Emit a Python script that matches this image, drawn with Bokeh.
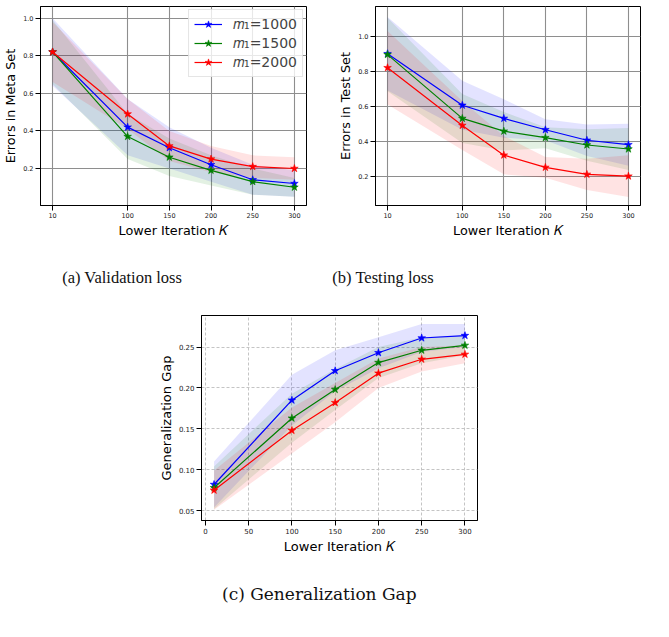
from bokeh.plotting import figure
from bokeh.layouts import column, row
from bokeh.models import (Legend, LegendItem, FixedTicker,
                          PrintfTickFormatter, Range1d, Spacer)
from bokeh.core.properties import value
from bokeh.embed import file_html
from bokeh.resources import INLINE

# Lower-level iteration counts
K = [10, 100, 150, 200, 250, 300]

SERIES_LABELS = ["𝑚₁=1000", "𝑚₁=1500", "𝑚₁=2000"]
COLORS = ["blue", "green", "red"]

# (a) errors on the meta (validation) set: mean and spread
meta_1000 = [0.82, 0.42, 0.31, 0.22, 0.14, 0.12]
meta_1500 = [0.82, 0.37, 0.26, 0.19, 0.13, 0.10]
meta_2000 = [0.82, 0.49, 0.32, 0.25, 0.21, 0.20]
meta_std_1000 = [0.18, 0.15, 0.11, 0.09, 0.08, 0.07]
meta_std_1500 = [0.17, 0.12, 0.10, 0.08, 0.07, 0.05]
meta_std_2000 = [0.16, 0.08, 0.08, 0.07, 0.06, 0.06]

# (b) errors on the test set
test_1000 = [0.90, 0.605, 0.53, 0.465, 0.405, 0.38]
test_1500 = [0.895, 0.53, 0.457, 0.42, 0.378, 0.355]
test_2000 = [0.82, 0.49, 0.32, 0.25, 0.21, 0.20]
test_std_1000 = [0.21, 0.14, 0.11, 0.06, 0.09, 0.12]
test_std_1500 = [0.21, 0.14, 0.11, 0.06, 0.09, 0.12]
test_std_2000 = [0.21, 0.14, 0.11, 0.06, 0.09, 0.12]

# (c) generalization gap
gap_1000 = [0.082, 0.185, 0.221, 0.243, 0.261, 0.264]
gap_1500 = [0.078, 0.163, 0.198, 0.231, 0.246, 0.252]
gap_2000 = [0.075, 0.148, 0.182, 0.218, 0.235, 0.241]
gap_std_1000 = [0.028, 0.031, 0.025, 0.019, 0.017, 0.014]
gap_std_1500 = [0.026, 0.030, 0.025, 0.019, 0.016, 0.012]
gap_std_2000 = [0.024, 0.028, 0.024, 0.018, 0.015, 0.011]

CAPTIONS = ["(a) Validation loss", "(b) Testing loss", "(c) Generalization Gap"]

FONT = "DejaVu Sans"
X_LABEL = "Lower Iteration 𝐾"
PAGE_W = 669


def make_panel(width, height, borders, y_range, x_ticks, y_ticks, y_fmt,
               y_label, tick_px, label_px, grid_dash):
    left, right, top, bottom = borders
    p = figure(width=width, height=height, output_backend="svg",
               toolbar_location=None, title=None,
               x_range=Range1d(-4.5, 314.5), y_range=Range1d(*y_range),
               min_border_left=left, min_border_right=right,
               min_border_top=top, min_border_bottom=bottom)
    p.outline_line_color = "black"
    p.outline_line_width = 1
    p.outline_line_alpha = 1
    p.background_fill_color = "white"
    p.border_fill_color = "white"

    p.xaxis.ticker = FixedTicker(ticks=x_ticks)
    p.yaxis.ticker = FixedTicker(ticks=y_ticks)
    p.yaxis.formatter = PrintfTickFormatter(format=y_fmt)
    for ax in (p.xaxis[0], p.yaxis[0]):
        ax.axis_line_color = "black"
        ax.major_tick_line_color = "black"
        ax.major_tick_out = 5
        ax.major_tick_in = 0
        ax.minor_tick_line_color = None
        ax.major_label_text_font = FONT
        ax.major_label_text_font_size = tick_px
        ax.major_label_text_color = "#222222"
        ax.axis_label_text_font = FONT
        ax.axis_label_text_font_style = "normal"
        ax.axis_label_text_color = "black"
        ax.major_label_standoff = 2
        ax.axis_label_standoff = 2
    p.xaxis.axis_label = X_LABEL
    p.yaxis.axis_label = y_label
    p.xaxis.axis_label_text_font_size = label_px
    p.yaxis.axis_label_text_font_size = label_px

    if grid_dash:
        p.grid.grid_line_color = "#c4c4c4"
        p.grid.grid_line_dash = "3 2"
        p.grid.grid_line_width = 1
    else:
        p.grid.grid_line_color = "#8e8e8e"
        p.grid.grid_line_width = 1.1
    return p


def draw_series(p, means, stds):
    items = []
    for mean, std, color in zip(means, stds, COLORS):
        lo = [m - s for m, s in zip(mean, std)]
        hi = [m + s for m, s in zip(mean, std)]
        p.varea(x=K, y1=lo, y2=hi, fill_color=color, fill_alpha=0.11)
    for mean, color, label in zip(means, COLORS, SERIES_LABELS):
        ln = p.line(K, mean, line_color=color, line_width=1.2)
        mk = p.scatter(K, mean, marker="star", size=8, fill_color=color,
                       line_color=color, line_width=0.6)
        items.append(LegendItem(label=label, renderers=[ln, mk]))
    return items


def caption_strip(height, texts, xs, y, font, size):
    """A full-width strip in pixel coordinates holding sub-figure captions."""
    c = figure(width=PAGE_W, height=height, output_backend="svg",
               toolbar_location=None, title=None,
               x_axis_location=None, y_axis_location=None,
               x_range=Range1d(0, PAGE_W), y_range=Range1d(height, 0),
               min_border=0, outline_line_color=None)
    c.grid.visible = False
    c.text(x=xs, y=[y] * len(xs), text=texts, text_font=value(font),
           text_font_size=size, text_color="#111111",
           text_align="center", text_baseline="middle")
    return c


# (a) validation loss
pa = make_panel(335, 240, (39, 29, 6, 35), (0.003, 1.062), K,
                [0.2, 0.4, 0.6, 0.8, 1.0], "%.1f", "Errors in Meta Set",
                "6.5px", "12.8px", False)
items = draw_series(pa, [meta_1000, meta_1500, meta_2000],
                    [meta_std_1000, meta_std_1500, meta_std_2000])
legend = Legend(items=items, location="top_right", margin=3,
                padding=5, spacing=1, label_height=18, glyph_height=18,
                glyph_width=28, label_standoff=11,
                label_text_font=FONT, label_text_font_size="14px",
                border_line_color="#cccccc", border_line_width=1,
                background_fill_alpha=0.8)
pa.add_layout(legend)

# (b) testing loss
pb = make_panel(334, 240, (38, 29, 6, 35), (0.032, 1.17), K,
                [0.2, 0.4, 0.6, 0.8, 1.0], "%.1f", "Errors in Test Set",
                "6.5px", "12.8px", False)
draw_series(pb, [test_1000, test_1500, test_2000],
            [test_std_1000, test_std_1500, test_std_2000])

cap_ab = caption_strip(60, CAPTIONS[:2], [121.7, 382.6], 36.7,
                       "Liberation Serif", "16.5px")

# (c) generalization gap
pc = make_panel(345, 256, (51, 18, 15, 35), (0.038, 0.2885),
                [0, 50, 100, 150, 200, 250, 300],
                [0.05, 0.10, 0.15, 0.20, 0.25], "%.2f", "Generalization Gap",
                "7px", "13px", True)
draw_series(pc, [gap_1000, gap_1500, gap_2000],
            [gap_std_1000, gap_std_1500, gap_std_2000])

cap_c = caption_strip(81, CAPTIONS[2:], [318.8], 37, "DejaVu Serif", "17px")

layout = column(
    row(pa, pb),
    cap_ab,
    row(Spacer(width=150, height=256), pc),
    cap_c,
)

open("out.html", "w").write(file_html(layout, INLINE))
